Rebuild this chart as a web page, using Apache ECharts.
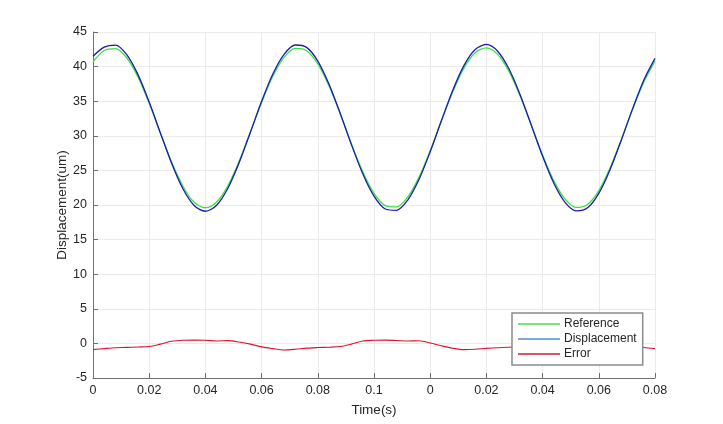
<!DOCTYPE html>
<html>
<head>
<meta charset="utf-8">
<script src="https://cdn.jsdelivr.net/npm/echarts@6/dist/echarts.min.js"></script>
<style>
html,body{margin:0;padding:0;background:#fff;}
#c{width:723px;height:424px;}
</style>
</head>
<body>
<div id="c"></div>
<script>
const timeValues = [0,0.004,0.008,0.012,0.016,0.020,0.024,0.028,0.032,0.036,0.040,0.044,0.048,0.052,0.056,0.060,0.064,0.068,0.072,0.076,0.080,0.084,0.088,0.092,0.096,0.100,0.104,0.108,0.112,0.116,0.120,0.124,0.128,0.132,0.136,0.140,0.144,0.148,0.152,0.156,0.160,0.164,0.168,0.172,0.176,0.180,0.184,0.188,0.192,0.196,0.200];
const referenceValues = [40.7,42.33,42.61,41.28,38.52,34.72,30.41,26.21,22.71,20.39,19.60,20.43,22.78,26.31,30.52,34.82,38.61,41.33,42.63,42.30,40.40,37.19,33.13,28.79,24.79,21.68,19.91,19.72,21.15,23.99,27.84,32.16,36.33,39.78,42.00,42.70,41.76,39.33,35.74,31.50,27.22,23.48,20.84,19.65,20.08,22.07,25.35,29.44,33.78,37.74,40.78];
const displacementValues = [41.5,42.81,43.11,41.72,38.84,34.87,30.38,26.00,22.34,19.93,19.10,19.97,22.42,26.10,30.50,34.98,38.93,41.77,43.12,42.78,40.80,37.45,33.22,28.69,24.51,21.27,19.42,19.23,20.72,23.68,27.70,32.20,36.56,40.15,42.47,43.20,42.22,39.68,35.94,31.52,27.05,23.15,20.39,19.15,19.60,21.68,25.10,29.36,33.89,38.03,41.19];
const errorValues = [-0.90,-0.75,-0.62,-0.58,-0.52,-0.45,-0.10,0.30,0.45,0.48,0.45,0.35,0.40,0.20,-0.10,-0.50,-0.75,-0.95,-0.85,-0.68,-0.60,-0.55,-0.45,-0.10,0.35,0.45,0.48,0.42,0.35,0.38,0.05,-0.35,-0.70,-0.90,-0.85,-0.72,-0.62,-0.55,-0.50,-0.40,-0.05,0.35,0.45,0.48,0.42,0.35,0.38,0.10,-0.30,-0.60,-0.75];
const xTickLabels = ["0","0.02","0.04","0.06","0.08","0.1","0","0.02","0.04","0.06","0.08"];
const seriesNames = ["Reference","Displacement","Error"];

const pair = (vals) => timeValues.map((t, i) => [t, vals[i]]);
const textColor = '#262626';
const axisColor = '#707070';
const chart = echarts.init(document.getElementById('c'), null, {renderer: 'canvas'});
chart.setOption({
  animation: false,
  backgroundColor: '#fff',
  grid: {left: 93, right: 68, top: 32, bottom: 46, containLabel: false},
  xAxis: {
    type: 'value', min: 0, max: 0.2, interval: 0.02,
    name: 'Time(s)', nameLocation: 'middle', nameGap: 25,
    nameTextStyle: {fontFamily: 'Liberation Sans', fontSize: 13.5, color: textColor},
    axisLine: {show: true, onZero: false, lineStyle: {color: axisColor, width: 1}},
    axisTick: {show: true, inside: true, length: 5, lineStyle: {color: axisColor}},
    axisLabel: {fontFamily: 'Liberation Sans', fontSize: 12.5, color: textColor, margin: 6,
      formatter: (v) => xTickLabels[Math.round(v / 0.02)]},
    splitLine: {show: true, lineStyle: {color: '#ebebeb', width: 1}}
  },
  yAxis: {
    type: 'value', min: -5, max: 45, interval: 5,
    name: 'Displacement(um)', nameLocation: 'middle', nameGap: 24, nameRotate: 90,
    nameMoveOverlap: false,
    nameTextStyle: {fontFamily: 'Liberation Sans', fontSize: 13.5, color: textColor},
    axisLine: {show: true, onZero: false, lineStyle: {color: axisColor, width: 1}},
    axisTick: {show: true, inside: true, length: 5, lineStyle: {color: axisColor}},
    axisLabel: {fontFamily: 'Liberation Sans', fontSize: 12.5, color: textColor, margin: 6},
    splitLine: {show: true, lineStyle: {color: '#ebebeb', width: 1}}
  },
  legend: {
    orient: 'vertical', left: 512, top: 313,
    backgroundColor: '#fff', borderColor: '#8c8c8c', borderWidth: 1.5, borderRadius: 0,
    padding: [5, 6, 5, 6], itemGap: 3, itemWidth: 42, itemHeight: 12,
    textStyle: {fontFamily: 'Liberation Sans', fontSize: 12, color: textColor, padding: [0,0,0,-1]},
    data: [
      {name: seriesNames[0], icon: 'path://M0,5L40,5L40,7L0,7Z', itemStyle: {color: '#7fe07f'}},
      {name: seriesNames[1], icon: 'path://M0,5L40,5L40,7L0,7Z', itemStyle: {color: '#7ea9d2'}},
      {name: seriesNames[2], icon: 'path://M0,5L40,5L40,7L0,7Z', itemStyle: {color: '#d9536b'}}
    ]
  },
  series: [
    {name: seriesNames[0], type: 'line', data: pair(referenceValues), smooth: 0.3, showSymbol: false,
     lineStyle: {color: '#3ee03e', width: 1.3}, itemStyle: {color: '#3ee03e'}},
    {name: seriesNames[1], type: 'line', data: pair(displacementValues), smooth: 0.3, showSymbol: false,
     lineStyle: {color: '#1a1ab4', width: 1.3}, itemStyle: {color: '#1a1ab4'}},
    {name: seriesNames[2], type: 'line', data: pair(errorValues), smooth: 0.3, showSymbol: false,
     lineStyle: {color: '#e0102e', width: 1.1}, itemStyle: {color: '#e0102e'}}
  ]
});
</script>
</body>
</html>
